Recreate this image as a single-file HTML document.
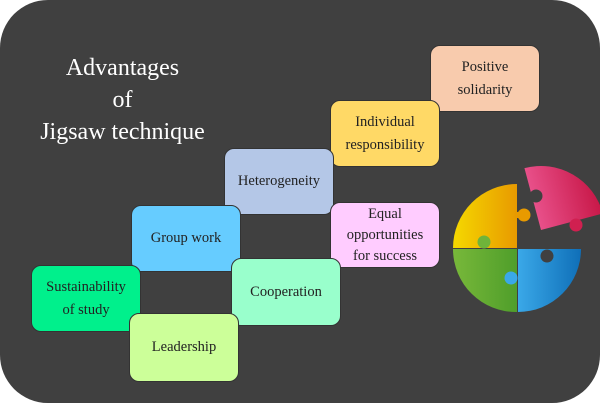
<!DOCTYPE html>
<html><head><style>
html,body{margin:0;padding:0;background:#fff;}
.bg{position:absolute;left:0;top:0;width:600px;height:403px;background:#404040;border-radius:48px;overflow:hidden;}
.b{position:absolute;width:110px;height:67px;border-radius:10px;border:1px solid #333;box-sizing:border-box;display:flex;align-items:center;justify-content:center;text-align:center;font-family:"Liberation Serif",serif;font-size:14.5px;line-height:23px;color:#222;}
.t{position:absolute;left:20px;width:205px;top:52px;text-align:center;color:#fff;font-family:"Liberation Serif",serif;font-size:24px;line-height:32px;}
</style></head><body>
<div class="bg">
<div class="t">Advantages<br>of<br>Jigsaw technique</div>
<div class="b" style="left:430px;top:45px;background:#f8cbad">Positive<br>solidarity</div>
<div class="b" style="left:330px;top:100px;background:#ffd966">Individual<br>responsibility</div>
<div class="b" style="left:224px;top:148px;background:#b4c7e7">Heterogeneity</div>
<div class="b" style="left:131px;top:205px;background:#66ccff">Group work</div>
<div class="b" style="left:330px;top:202px;height:66px;background:#ffccff;line-height:21px">Equal<br>opportunities<br>for success</div>
<div class="b" style="left:31px;top:265px;background:#00f08c">Sustainability<br>of study</div>
<div class="b" style="left:231px;top:258px;height:68px;background:#99ffcc">Cooperation</div>
<div class="b" style="left:129px;top:313px;height:69px;background:#ccff99">Leadership</div>
<svg style="position:absolute;left:0;top:0" width="600" height="403">
<defs>
<linearGradient id="y" x1="0" x2="1"><stop offset="0" stop-color="#f5d800"/><stop offset="1" stop-color="#e89a00"/></linearGradient>
<linearGradient id="g" x1="0" x2="1"><stop offset="0" stop-color="#78b83a"/><stop offset="1" stop-color="#4f9e2a"/></linearGradient>
<linearGradient id="bl" x1="0" x2="1"><stop offset="0" stop-color="#3aa8e8"/><stop offset="1" stop-color="#0f6fb8"/></linearGradient>
<linearGradient id="p" x1="0" x2="1"><stop offset="0" stop-color="#e8508a"/><stop offset="1" stop-color="#c81848"/></linearGradient>
</defs>
<path d="M517,248 L453,248 A64,64 0 0 1 517,184 Z" fill="url(#y)"/>
<rect x="515" y="212" width="6" height="6" fill="#e89a00"/>
<circle cx="524" cy="215" r="6.5" fill="#e89a00"/>
<path d="M517,249 L517,312 A63,63 0 0 1 453,249 Z" fill="url(#g)"/>
<circle cx="484" cy="242" r="6.5" fill="#6fb43a"/>
<path d="M518,249 L581,249 A63,63 0 0 1 518,312 Z" fill="url(#bl)"/>
<circle cx="511" cy="278" r="6.5" fill="#3aa8e8"/>
<circle cx="547" cy="256" r="6.5" fill="#404040"/>
<path d="M541,230 L541,166 A64,64 0 0 1 605,230 Z" transform="rotate(-15 541 230)" fill="url(#p)"/>
<circle cx="576" cy="225" r="6.5" fill="#d02050"/>
<circle cx="536" cy="196" r="6.5" fill="#404040"/>
</svg>
</div>
</body></html>
